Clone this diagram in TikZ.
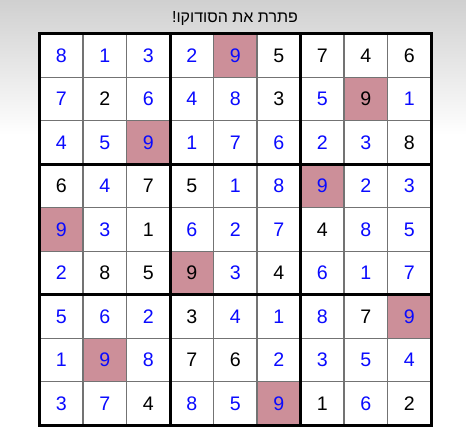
\documentclass[tikz,border=0pt]{standalone}
\usepackage{fontspec}
\setmainfont{Liberation Sans}
\newfontfamily\hebfont[Script=Hebrew]{Liberation Sans}
\TeXXeTstate=1
\definecolor{B}{RGB}{10,10,255}
\definecolor{K}{RGB}{0,0,0}
\definecolor{hl}{RGB}{204,143,153}
\definecolor{thin}{RGB}{115,115,115}
\definecolor{bgtop}{RGB}{208,208,208}
\tikzset{
  cellbox/.style={minimum size=43.5pt, inner sep=0pt, outer sep=0pt, font=\fontsize{19.6}{21}\selectfont},
  hlcell/.style={fill=hl},
  thinline/.style={draw=thin, line width=1.1pt},
  thickline/.style={draw=black, line width=3pt},
}
\begin{document}
\begin{tikzpicture}[x=1pt,y=-1pt]
\useasboundingbox (0,0) rectangle (466,445);
\fill[white] (0,0) rectangle (466,445);
\shade[top color=bgtop, bottom color=white] (0,0) rectangle (466,135);
\node[font=\hebfont\fontsize{16}{18}\selectfont, anchor=base] (title) at (235,22.7) {\beginR פתרת את הסודוקו!\endR};
\fill[white] (39.5,33.7) rectangle (431,425.2);
\foreach \r/\cells in {
 1/{1/8/B,2/1/B,3/3/B,4/2/B,5/9/B,6/5/K,7/7/K,8/4/K,9/6/K},
 2/{1/7/B,2/2/K,3/6/B,4/4/B,5/8/B,6/3/K,7/5/B,8/9/K,9/1/B},
 3/{1/4/B,2/5/B,3/9/B,4/1/B,5/7/B,6/6/B,7/2/B,8/3/B,9/8/K},
 4/{1/6/K,2/4/B,3/7/K,4/5/K,5/1/B,6/8/B,7/9/B,8/2/B,9/3/B},
 5/{1/9/B,2/3/B,3/1/K,4/6/B,5/2/B,6/7/B,7/4/K,8/8/B,9/5/B},
 6/{1/2/B,2/8/K,3/5/K,4/9/K,5/3/B,6/4/K,7/6/B,8/1/B,9/7/B},
 7/{1/5/B,2/6/B,3/2/B,4/3/K,5/4/B,6/1/B,7/8/B,8/7/K,9/9/B},
 8/{1/1/B,2/9/B,3/8/B,4/7/K,5/6/K,6/2/B,7/3/B,8/5/B,9/4/B},
 9/{1/3/B,2/7/B,3/4/K,4/8/B,5/5/B,6/9/B,7/1/K,8/6/B,9/2/K}} {
  \foreach \c/\d/\k in \cells {
    \ifnum\d=9
      \node[cellbox, hlcell, text=\k] (n\r\c) at ({39.5+43.5*(\c-0.5)},{33.7+43.5*(\r-0.5)}) {\raisebox{-1.2pt}{\d}};
    \else
      \node[cellbox, text=\k] (n\r\c) at ({39.5+43.5*(\c-0.5)},{33.7+43.5*(\r-0.5)}) {\raisebox{-1.2pt}{\d}};
    \fi
  }
}
\foreach \i in {1,2,4,5,7,8} {
  \draw[thinline] ({39.5+43.5*\i},33.7) -- ({39.5+43.5*\i},425.2);
  \draw[thinline] (39.5,{33.7+43.5*\i}) -- (431,{33.7+43.5*\i});
}
\foreach \i in {3,6} {
  \draw[thickline] ({39.5+43.5*\i},33.7) -- ({39.5+43.5*\i},425.2);
  \draw[thickline] (39.5,{33.7+43.5*\i}) -- (431,{33.7+43.5*\i});
}
\draw[thickline] (39.5,33.7) rectangle (431,425.2);
\end{tikzpicture}
\end{document}
